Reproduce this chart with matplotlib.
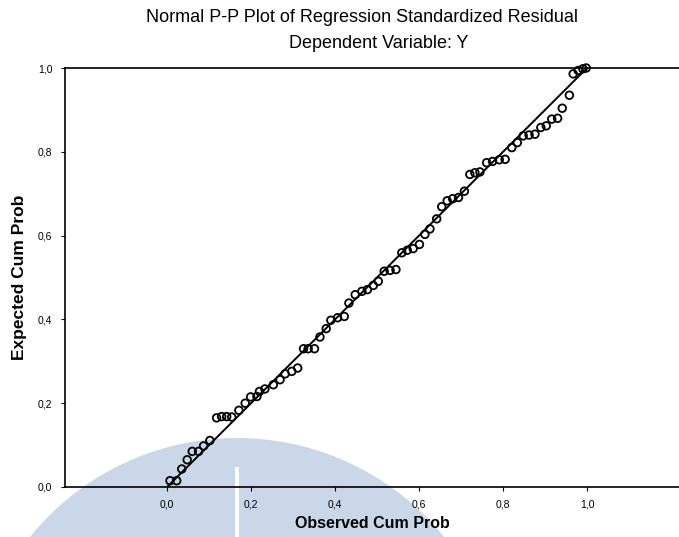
import matplotlib
matplotlib.use("Agg")
import matplotlib.pyplot as plt
from matplotlib.patches import Ellipse, Rectangle

# observed vs expected cumulative probabilities
observed = [
    0.007, 0.023, 0.035, 0.048, 0.060, 0.075, 0.087, 0.102,
    0.118, 0.130, 0.142, 0.154, 0.171, 0.186, 0.199, 0.214,
    0.220, 0.233, 0.253, 0.269, 0.281, 0.297, 0.311, 0.325,
    0.336, 0.351, 0.364, 0.379, 0.390, 0.406, 0.422, 0.433,
    0.448, 0.464, 0.477, 0.491, 0.503, 0.517, 0.531, 0.545,
    0.559, 0.572, 0.586, 0.601, 0.614, 0.626, 0.642, 0.654,
    0.667, 0.680, 0.694, 0.708, 0.721, 0.733, 0.745, 0.761,
    0.775, 0.791, 0.805, 0.821, 0.834, 0.848, 0.862, 0.876,
    0.890, 0.903, 0.916, 0.930, 0.941, 0.958, 0.967, 0.979,
    0.990, 0.998,
]
expected = [
    0.015, 0.015, 0.043, 0.065, 0.085, 0.085, 0.098, 0.111,
    0.165, 0.168, 0.168, 0.167, 0.183, 0.200, 0.215, 0.216,
    0.228, 0.234, 0.244, 0.256, 0.270, 0.276, 0.284, 0.330,
    0.330, 0.330, 0.358, 0.378, 0.398, 0.404, 0.407, 0.439,
    0.459, 0.467, 0.471, 0.481, 0.491, 0.515, 0.517, 0.519,
    0.559, 0.565, 0.569, 0.579, 0.603, 0.616, 0.640, 0.669,
    0.683, 0.688, 0.691, 0.706, 0.746, 0.750, 0.752, 0.774,
    0.777, 0.781, 0.782, 0.810, 0.822, 0.838, 0.840, 0.842,
    0.858, 0.862, 0.878, 0.880, 0.904, 0.935, 0.986, 0.994,
    0.998, 1.000,
]
ticks = [0.0, 0.2, 0.4, 0.6, 0.8, 1.0]
tick_labels = ["0,0", "0,2", "0,4", "0,6", "0,8", "1,0"]

plt.rcParams["font.family"] = ["Liberation Sans", "DejaVu Sans"]

W, H = 679, 537
fig = plt.figure(figsize=(W / 100, H / 100), dpi=100)

# pale blue watermark behind the plot
r = 266
fig.patches.append(Ellipse((237 / W, 1 - 704 / H), 2 * r / W, 2 * r / H,
                           transform=fig.transFigure, facecolor="#c9d7e9",
                           edgecolor="none", zorder=0))
fig.patches.append(Rectangle((235 / W, 0), 4 / W, 70 / H, transform=fig.transFigure,
                             facecolor="white", edgecolor="none", zorder=0.5))

ax = fig.add_axes([65 / W, 50 / H, 614 / W, 419 / H])
ax.set_zorder(2)
ax.patch.set_alpha(0)
ax.set_xlim(-0.243, 1.219)
ax.set_ylim(0, 1.0)

ax.plot([0, 1], [0, 1], color="black", lw=1.4, zorder=2)
ax.scatter(observed, expected, s=30, facecolors="none", edgecolors="black",
           linewidths=1.3, zorder=3, clip_on=False)

ax.set_xticks(ticks)
ax.set_xticklabels(tick_labels, fontsize=7.5)
ax.set_yticks(ticks)
ax.set_yticklabels(tick_labels, fontsize=7.5)
ax.tick_params(direction="out", length=3, width=0.8, pad=6)
ax.spines["right"].set_visible(False)
for side in ["left", "top", "bottom"]:
    ax.spines[side].set_linewidth(1.2)

ax.set_xlabel("Observed Cum Prob", fontsize=11.5, fontweight="bold", labelpad=5)
ax.set_ylabel("Expected Cum Prob", fontsize=12.5, fontweight="bold", labelpad=8)

fig.text(362 / W, 1 - 18 / H, "Normal P-P Plot of Regression Standardized Residual",
         ha="center", va="center", fontsize=13)
fig.text(379 / W, 1 - 44 / H, "Dependent Variable: Y",
         ha="center", va="center", fontsize=13)

fig.savefig("out.png", dpi=100)
